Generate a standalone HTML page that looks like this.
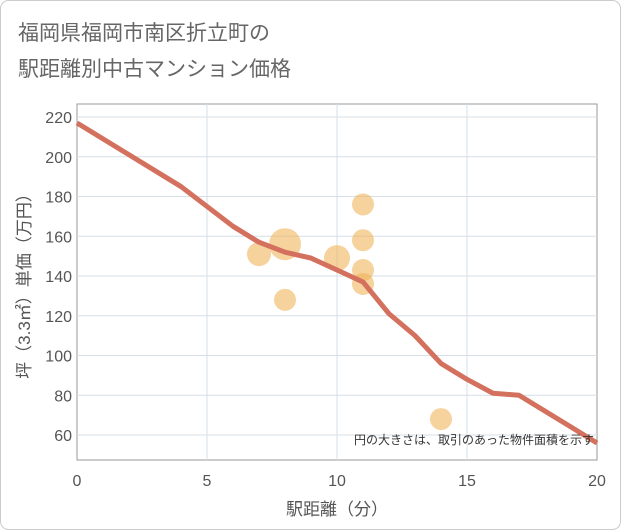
<!DOCTYPE html>
<html><head><meta charset="utf-8"><style>
body{margin:0;background:#fff;}
svg{display:block;font-family:"Liberation Sans","Noto Sans CJK JP",sans-serif;}
</style></head><body>
<svg width="621" height="530">
<rect x="0.5" y="0.5" width="620" height="529" rx="8" fill="#fff" stroke="#ccc"/>
<text x="18" y="40" font-size="21" fill="#666">福岡県福岡市南区折立町の</text>
<text x="18" y="76" font-size="21" fill="#666">駅距離別中古マンション価格</text>
<g id="plot"></g>
</svg>
<script>
const xTicks=[0,5,10,15,20];
const yTicks=[60,80,100,120,140,160,180,200,220];
const lineX=[0,2,4,6,7,8,9,10,11,12,13,14,15,16,17,18,19,20];
const lineY=[217,201,185,165,157,152,149,143,137,121,110,96,88,81,80,72,64,56];
const bubX=[7,8,8,10,11,11,11,11,14];
const bubY=[151,156,128,149,176,158,143,136,68];
const bubR=[12,16,11,13,11,11,11,11,11];
const L=77,R=597,T=104,B=460;
const sx=v=>L+(v-0)*(R-L)/20;
const sy=v=>435-(v-60)*(435-117)/160;
const NS="http://www.w3.org/2000/svg";
const g=document.getElementById('plot');
function mk(t,a){const e=document.createElementNS(NS,t);for(const k in a)e.setAttribute(k,a[k]);g.appendChild(e);return e;}
let bg=mk('rect',{x:L,y:T,width:R-L,height:B-T,fill:'#fff',stroke:'#999'});


yTicks.forEach(v=>{const l=mk('line',{x1:L,x2:R,y1:sy(v),y2:sy(v),stroke:'#d5dfea','stroke-width':1});


const t=mk('text',{x:L-5,y:sy(v)+6,'text-anchor':'end','font-size':16,fill:'#555'});t.textContent=v;

});
xTicks.forEach(v=>{if(v>0&&v<20){const l=mk('line',{x1:sx(v),x2:sx(v),y1:T,y2:B,stroke:'#d5dfea','stroke-width':1});

}
const t=mk('text',{x:sx(v),y:486,'text-anchor':'middle','font-size':16,fill:'#555'});t.textContent=v;

});
bubX.forEach((v,i)=>{const c=mk('circle',{cx:sx(v),cy:sy(bubY[i]),r:bubR[i],fill:'rgba(240,180,90,0.6)'});

});
const p=mk('polyline',{points:lineX.map((v,i)=>sx(v)+','+sy(lineY[i])).join(' '),fill:'none',stroke:'#d4715e','stroke-width':5,'stroke-linejoin':'round'});


const n=mk('text',{x:594,y:444,'text-anchor':'end','font-size':12,fill:'#333'});n.textContent='円の大きさは、取引のあった物件面積を示す';


const xt=mk('text',{x:337,y:515,'text-anchor':'middle','font-size':17,fill:'#555'});xt.textContent='駅距離（分）';


const yt=mk('text',{x:0,y:0,transform:'translate(30,282) rotate(-90)','text-anchor':'middle','font-size':17,fill:'#555'});yt.textContent='坪（3.3㎡）単価（万円）';


</script>
</body></html>
